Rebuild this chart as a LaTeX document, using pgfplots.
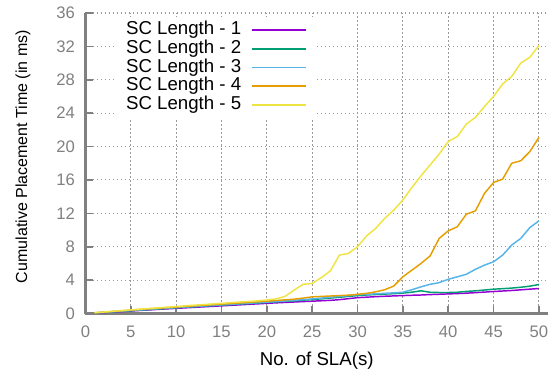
\documentclass[border=0pt]{standalone}
\usepackage{fontspec}
\setmainfont{Liberation Sans}
\usepackage{pgfplots}
\pgfplotsset{compat=1.18}
\usepackage{pgfplotstable}
\usetikzlibrary{calc}
\definecolor{c1}{HTML}{9400D3}
\definecolor{c2}{HTML}{009E73}
\definecolor{c3}{HTML}{56B4E9}
\definecolor{c4}{HTML}{E69F00}
\definecolor{c5}{HTML}{F0E442}

\pgfplotstableread{
x sc1 sc2 sc3 sc4 sc5
1 0.05 0.07 0.08 0.09 0.10
2 0.11 0.13 0.15 0.17 0.18
3 0.17 0.20 0.22 0.25 0.27
4 0.23 0.27 0.29 0.33 0.35
5 0.30 0.34 0.36 0.41 0.44
6 0.37 0.41 0.43 0.49 0.52
7 0.43 0.48 0.50 0.57 0.60
8 0.50 0.55 0.57 0.64 0.68
9 0.56 0.62 0.64 0.71 0.76
10 0.62 0.69 0.71 0.78 0.84
11 0.68 0.76 0.78 0.85 0.92
12 0.74 0.82 0.84 0.92 1.00
13 0.80 0.88 0.91 0.99 1.07
14 0.86 0.95 0.98 1.06 1.15
15 0.92 1.01 1.04 1.13 1.22
16 0.98 1.07 1.10 1.20 1.30
17 1.04 1.14 1.17 1.27 1.38
18 1.10 1.20 1.23 1.34 1.45
19 1.16 1.27 1.30 1.41 1.52
20 1.22 1.33 1.36 1.48 1.62
21 1.28 1.40 1.43 1.56 1.75
22 1.33 1.46 1.50 1.64 2.05
23 1.38 1.52 1.58 1.72 2.80
24 1.43 1.60 1.66 1.85 3.50
25 1.48 1.68 1.75 2.00 3.60
26 1.53 1.76 1.85 2.05 4.30
27 1.58 1.85 1.95 2.10 5.10
28 1.66 1.95 2.05 2.15 7.00
29 1.78 2.05 2.15 2.20 7.20
30 1.90 2.15 2.25 2.30 8.00
31 1.96 2.22 2.30 2.42 9.30
32 2.02 2.28 2.36 2.60 10.20
33 2.07 2.33 2.42 2.85 11.40
34 2.11 2.38 2.48 3.30 12.40
35 2.15 2.45 2.55 4.40 13.60
36 2.19 2.56 2.85 5.20 15.10
37 2.22 2.72 3.20 6.00 16.50
38 2.27 2.55 3.50 6.90 17.80
39 2.31 2.52 3.70 9.00 19.10
40 2.35 2.52 4.10 9.90 20.60
41 2.39 2.55 4.40 10.40 21.20
42 2.44 2.65 4.70 11.90 22.70
43 2.50 2.72 5.30 12.30 23.50
44 2.57 2.82 5.80 14.40 24.80
45 2.64 2.92 6.20 15.70 26.00
46 2.70 2.98 7.00 16.10 27.50
47 2.76 3.05 8.20 18.00 28.40
48 2.84 3.15 9.00 18.30 30.00
49 2.92 3.28 10.30 19.40 30.70
50 3.00 3.48 11.10 21.10 32.10
}\datatable

\begin{document}
\begin{tikzpicture}
\begin{axis}[
  scale only axis, width=346.95pt, height=225.4pt,
  xmin=0, xmax=51, ymin=0, ymax=36,
  xtick={0,5,...,50}, ytick={0,4,...,36},
  axis x line=bottom, axis y line=left,
  axis line style={-, draw=gray, line width=2pt},
  tick align=inside, major tick length=6pt,
  every tick/.style={gray, line width=1.2pt},
  grid=major,
  major grid style={gray!80, line width=0.8pt, dash pattern=on 0.8pt off 2.2pt},
  /pgf/number format/assume math mode=true,
  ticklabel style={font=\fontsize{12.5}{15}\selectfont, text=gray},
  xticklabel style={yshift=-6pt},
  yticklabel style={xshift=-4.3pt},
  xlabel={No. of SLA(s)},
  ylabel={Cumulative Placement Time (in ms)},
  xlabel style={font=\fontsize{14}{16}\selectfont, at={(axis description cs:0.5,0)}, anchor=base, yshift=-38.6pt},
  ylabel style={font=\fontsize{12}{14}\selectfont, at={(axis description cs:-0.1262,0.522)}, anchor=base},
  legend style={draw=none, fill=white, at={(axis description cs:0.5007,0.9867)}, anchor=north east,
    font=\fontsize{14}{14}\selectfont, inner xsep=7.5pt, inner ysep=2.7pt, row sep=0pt, column sep=7.5pt,
    nodes={inner sep=0pt, text height=10.5pt, text depth=3.5pt}},
  legend cell align=right, legend plot pos=right,
  legend image code/.code={\draw[#1, line width=1.1pt] (0pt,0pt) -- (40.5pt,0pt);},
]
\addplot[c1, line width=1.1pt] table[x=x, y=sc1] {\datatable};
\addlegendentry{SC Length - 1}
\addplot[c2, line width=1.1pt] table[x=x, y=sc2] {\datatable};
\addlegendentry{SC Length - 2}
\addplot[c3, line width=1.1pt] table[x=x, y=sc3] {\datatable};
\addlegendentry{SC Length - 3}
\addplot[c4, line width=1.1pt] table[x=x, y=sc4] {\datatable};
\addlegendentry{SC Length - 4}
\addplot[c5, line width=1.1pt] table[x=x, y=sc5] {\datatable};
\addlegendentry{SC Length - 5}
\coordinate (ll) at (rel axis cs:0,0);
\coordinate (ur) at (rel axis cs:1,1);
\end{axis}
\pgfresetboundingbox
\path ($(ll)+(-64.05pt,-45.4pt)$) rectangle ($(ur)+(1.5pt,9.75pt)$);
\end{tikzpicture}
\end{document}
